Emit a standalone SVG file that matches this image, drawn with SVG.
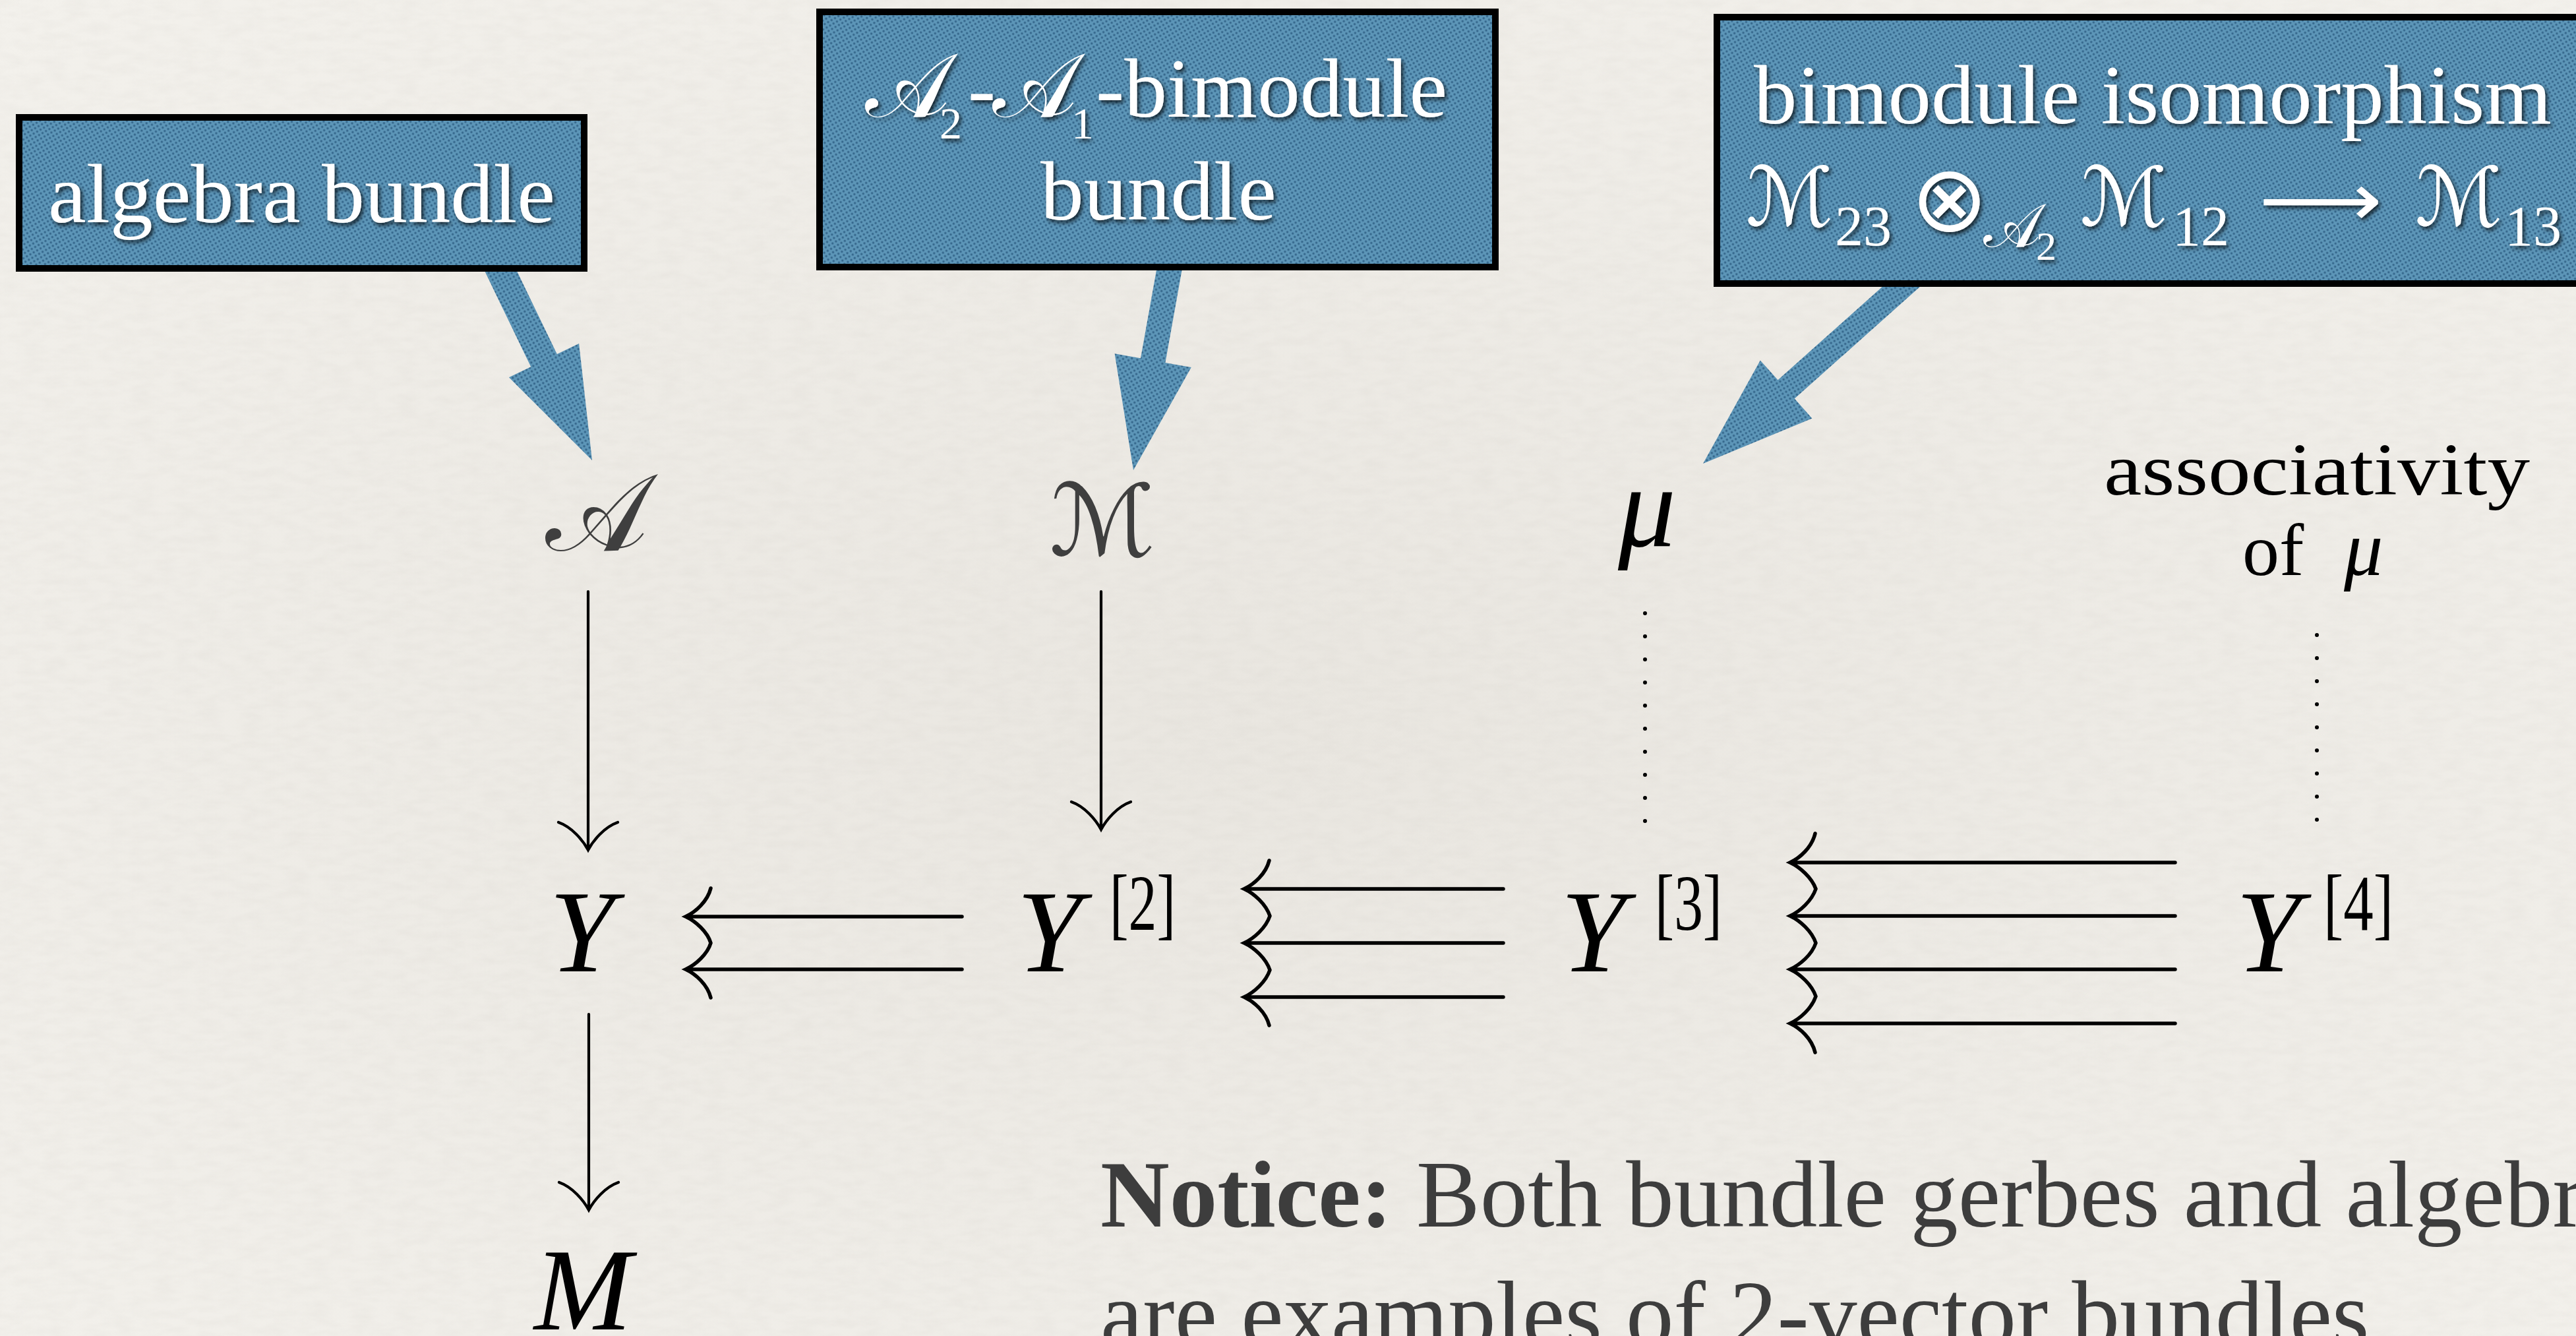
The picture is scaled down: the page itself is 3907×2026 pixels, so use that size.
<svg xmlns="http://www.w3.org/2000/svg" width="3907" height="2026" viewBox="0 0 3907 2026">
<defs>
<style>
.box{fill:url(#dots);stroke:#000;stroke-width:10}
.callout{fill:url(#dots)}
.btxt{font-family:"Liberation Serif",serif;fill:#fff;filter:url(#shadow)}
.scr{font-family:"DejaVu Sans","DejaVu Serif",sans-serif}
.mi{font-family:"Liberation Serif",serif;font-style:italic;fill:#000}
.rm{font-family:"Liberation Serif",serif;fill:#000}
.gray{fill:#3f3f3f}
.ln{stroke:#000;stroke-width:5.5;fill:none;stroke-linecap:round}
.vln{stroke:#000;stroke-width:4.2;fill:none;stroke-linecap:round}
.dotl{stroke:#000;stroke-width:6;stroke-linecap:round;stroke-dasharray:0 35;fill:none}
.note{font-family:"Liberation Serif",serif;font-size:145px;fill:#3d3d3d}
</style>
<radialGradient id="paper" cx="0.5" cy="0.55" r="0.75">
<stop offset="0" stop-color="#e9e6e0"/>
<stop offset="1" stop-color="#f3f1ec"/>
</radialGradient>
<pattern id="dots" width="6" height="6" patternUnits="userSpaceOnUse" patternTransform="rotate(-30)">
<rect width="6" height="6" fill="#5d96b8"/>
<circle cx="3" cy="3" r="1.7" fill="#33658a"/>
</pattern>
<filter id="shadow" x="-5%" y="-20%" width="115%" height="150%">
<feDropShadow dx="3" dy="4" stdDeviation="3" flood-color="#000" flood-opacity="0.75"/>
</filter>
<filter id="grain" x="0" y="0" width="100%" height="100%">
<feTurbulence type="fractalNoise" baseFrequency="0.03 0.08" numOctaves="3" seed="4"/>
<feColorMatrix type="matrix" values="0 0 0 0 0.45 0 0 0 0 0.42 0 0 0 0 0.38 0.35 0 0 0 -0.12"/>
</filter>
</defs>

<rect width="3907" height="2026" fill="url(#paper)"/>
<rect width="3907" height="2026" filter="url(#grain)" opacity="0.4"/>

<g id="connectors">
<polygon class="callout" points="764.4,370.4 844.8,537.1 878.1,521.1 898,698 771.9,572.3 805.2,556.3 724.8,389.6"/>
<polygon class="callout" points="1797.3,383.3 1767.4,550.0 1806.8,557.1 1719,713 1690.6,536.3 1730.0,543.3 1759.9,376.7"/>
<polygon class="callout" points="2935.1,414.2 2721.8,604.6 2748.4,634.4 2583,703 2669.8,546.4 2696.5,576.2 2909.8,385.8"/>

<path class="vln" d="M892,897 V1289 M847,1247 C867,1254 884,1274 892,1289 C900,1274 917,1254 937,1247"/>
<path class="vln" d="M1670,897 V1258 M1625,1216 C1645,1223 1662,1243 1670,1258 C1678,1243 1695,1223 1715,1216"/>
<path class="vln" d="M893,1538 V1835 M848,1793 C868,1800 885,1820 893,1835 C901,1820 918,1800 938,1793"/>

<path class="ln" d="M1040,1390 H1459 M1040,1470 H1459
M1078,1347 C1073,1367 1055,1383 1040,1390 C1055,1397 1073,1413 1078,1430 C1073,1447 1055,1463 1040,1470 C1055,1477 1073,1493 1078,1513"/>

<path class="ln" d="M1887,1348 H2280 M1887,1430 H2280 M1887,1512 H2280
M1925,1305 C1920,1325 1902,1341 1887,1348 C1902,1355 1920,1371 1926,1389 C1920,1407 1902,1423 1887,1430 C1902,1437 1920,1453 1926,1471 C1920,1489 1902,1505 1887,1512 C1902,1519 1920,1535 1925,1555"/>

<path class="ln" d="M2715,1308 H3299 M2715,1389 H3299 M2715,1470 H3299 M2715,1552 H3299
M2753,1264 C2748,1285 2730,1301 2715,1308 C2730,1315 2748,1331 2754,1348 C2748,1366 2730,1382 2715,1389 C2730,1396 2748,1412 2754,1430 C2748,1448 2730,1463 2715,1470 C2730,1477 2748,1493 2754,1511 C2748,1529 2730,1545 2715,1552 C2730,1559 2748,1575 2753,1596"/>

<path class="dotl" d="M2495,930 V1250"/>
<path class="dotl" d="M3514,963 V1250"/>
</g>

<g id="box-algebra">
<rect class="box" x="29" y="178" width="857" height="229"/>
<text class="btxt" x="73" y="337" font-size="126" textLength="769" lengthAdjust="spacingAndGlyphs">algebra bundle</text>
</g>

<g id="box-bimodule">
<rect class="box" x="1243" y="18" width="1025" height="387"/>
<text class="btxt" y="177" font-size="126"><tspan class="scr" x="1312" font-size="136">𝒜</tspan><tspan x="1425" y="210" font-size="68">2</tspan><tspan x="1468" y="177">-</tspan><tspan class="scr" x="1505" font-size="136">𝒜</tspan><tspan x="1625" y="210" font-size="68">1</tspan></text>
<text class="btxt" x="1662" y="177" font-size="126" textLength="533" lengthAdjust="spacingAndGlyphs">-bimodule</text>
<text class="btxt" x="1578" y="333" font-size="126" textLength="358" lengthAdjust="spacingAndGlyphs">bundle</text>
</g>

<g id="box-iso">
<rect class="box" x="2604" y="26" width="1400" height="404"/>
<text class="btxt" x="2660" y="187" font-size="126" textLength="1210" lengthAdjust="spacingAndGlyphs">bimodule isomorphism</text>
<text class="btxt" y="342" font-size="124"><tspan class="scr" x="2648">ℳ</tspan><tspan x="2783" y="372" font-size="86">23</tspan><tspan class="scr" x="2898" y="350" font-size="140">⊗</tspan><tspan class="scr" x="3008" y="374" font-size="92">𝒜</tspan><tspan x="3088" y="394" font-size="62">2</tspan><tspan class="scr" x="3155" y="342">ℳ</tspan><tspan x="3295" y="372" font-size="86">12</tspan><tspan class="scr" x="3663" y="342">ℳ</tspan><tspan x="3799" y="372" font-size="86">13</tspan></text>
<text class="btxt scr" x="3426" y="342" font-size="112" textLength="187" lengthAdjust="spacingAndGlyphs">⟶</text>
</g>

<g id="node-A">
<text class="scr gray" x="905" y="835" font-size="165" text-anchor="middle">𝒜</text>
</g>
<g id="node-M-script">
<text class="scr gray" x="1672" y="842" font-size="150" text-anchor="middle">ℳ</text>
</g>
<g id="node-mu">
<text class="mi" x="2454" y="828" font-size="175">μ</text>
</g>
<g id="node-assoc">
<text class="rm" x="3191" y="750" font-size="112" textLength="646" lengthAdjust="spacingAndGlyphs">associativity</text>
<text class="rm" x="3401" y="872" font-size="112">of <tspan class="mi" x="3555" font-size="118">μ</tspan></text>
</g>
<g id="node-Y">
<text class="mi" x="833" y="1473" font-size="178">Y</text>
</g>
<g id="node-Y2">
<text class="mi" x="1542" y="1473" font-size="178">Y</text>
<text class="rm" x="1683" y="1410" font-size="120" textLength="100" lengthAdjust="spacingAndGlyphs">[2]</text>
</g>
<g id="node-Y3">
<text class="mi" x="2367" y="1473" font-size="178">Y</text>
<text class="rm" x="2510" y="1410" font-size="120" textLength="102" lengthAdjust="spacingAndGlyphs">[3]</text>
</g>
<g id="node-Y4">
<text class="mi" x="3391" y="1473" font-size="178">Y</text>
<text class="rm" x="3524" y="1410" font-size="120" textLength="106" lengthAdjust="spacingAndGlyphs">[4]</text>
</g>
<g id="node-M">
<text class="mi" x="810" y="2016" font-size="178">M</text>
</g>

<g id="notice">
<text class="note" x="1669" y="1860"><tspan font-weight="bold">Notice:</tspan> Both bundle gerbes and algebr</text>
<text class="note" x="1669" y="2042">are examples of 2-vector bundles.</text>
</g>
</svg>
